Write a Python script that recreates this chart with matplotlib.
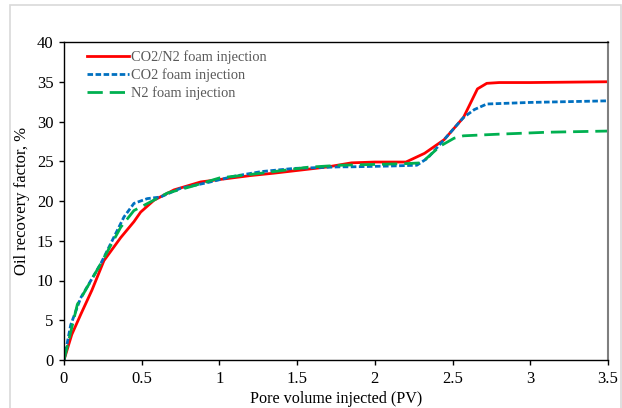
import matplotlib.pyplot as plt
from matplotlib.patches import Rectangle

# CO2/N2 foam injection
pv_mix = [0, 0.05, 0.107, 0.18, 0.257, 0.365, 0.45, 0.493, 0.579, 0.708, 0.88, 1.0, 1.2, 1.35,
          1.57, 1.7, 1.85, 2.0, 2.2, 2.32, 2.445, 2.57, 2.66, 2.72, 2.8, 3.0, 3.5]
rf_mix = [0, 3.2, 5.7, 8.8, 12.5, 15.4, 17.4, 18.6, 20.1, 21.4, 22.4, 22.7, 23.2, 23.5,
          24.0, 24.3, 24.8, 24.9, 24.9, 26.0, 27.7, 30.5, 34.1, 34.8, 34.9, 34.9, 35.0]

# CO2 foam injection
pv_co2 = [0, 0.043, 0.107, 0.236, 0.386, 0.45, 0.536, 0.62, 0.75, 0.92, 1.09, 1.27, 1.48,
          1.78, 1.85, 2.1, 2.27, 2.34, 2.445, 2.57, 2.64, 2.72, 3.0, 3.5]
rf_co2 = [0, 4.4, 7.8, 12.1, 18.0, 19.7, 20.3, 20.5, 21.6, 22.3, 23.1, 23.7, 24.1,
          24.3, 24.3, 24.4, 24.5, 25.4, 27.7, 30.5, 31.5, 32.2, 32.4, 32.6]

# N2 foam injection
pv_n2 = [0, 0.086, 0.236, 0.365, 0.45, 0.558, 0.665, 0.815, 1.0, 1.27, 1.57, 1.78, 2.0,
         2.2, 2.3, 2.42, 2.51, 2.57, 2.79, 3.11, 3.5]
rf_n2 = [0, 7.0, 12.1, 16.7, 18.8, 19.9, 21.0, 21.8, 22.9, 23.5, 24.25, 24.5, 24.6,
         24.7, 24.8, 26.9, 27.9, 28.2, 28.4, 28.65, 28.8]

x_ticks = [0, 0.5, 1, 1.5, 2, 2.5, 3, 3.5]
x_labels = ['0', '0.5', '1', '1.5', '2', '2.5', '3', '3.5']
y_ticks = [0, 5, 10, 15, 20, 25, 30, 35, 40]

plt.rcParams['font.family'] = ['Liberation Serif', 'DejaVu Serif']

fig = plt.figure(figsize=(6.22, 4.08), dpi=100)
ax = fig.add_axes([64 / 622, 1 - 360 / 408, 544 / 622, 318 / 408])

# light frame around the chart area
fig.patches.append(Rectangle((10 / 622, -0.05), 611 / 622, 1 - 5 / 408 + 0.05,
                             transform=fig.transFigure, fill=False,
                             edgecolor='#d9d9d9', lw=1.2))

ax.plot(pv_mix, rf_mix, color='#ff0000', lw=2.0, label='CO2/N2 foam injection')
ax.plot(pv_co2, rf_co2, color='#0070c0', lw=2.0, linestyle=(0, (2.0, 0.9)),
        label='CO2 foam injection')
ax.plot(pv_n2, rf_n2, color='#00b050', lw=2.0, linestyle=(0, (5.5, 2.5)),
        label='N2 foam injection')

ax.set_xlim(0, 3.5)
ax.set_ylim(0, 40)
ax.set_xticks(x_ticks)
ax.set_xticklabels(x_labels)
ax.set_yticks(y_ticks)
ax.tick_params(labelsize=12, length=3.6, width=1, colors='black', pad=4)

for side in ['left', 'bottom', 'top']:
    ax.spines[side].set_color('black')
    ax.spines[side].set_linewidth(1.0)
ax.spines['right'].set_color('#7f7f7f')
ax.spines['right'].set_linewidth(1.5)

ax.set_xlabel('Pore volume injected (PV)', fontsize=11.6, labelpad=3)
ax.set_ylabel('Oil recovery factor, %', fontsize=12, labelpad=5)

leg = ax.legend(loc='upper left', frameon=False, fontsize=10.4, handlelength=2.9,
                handletextpad=0.15, labelspacing=0.3, borderaxespad=0, borderpad=0,
                bbox_to_anchor=(23 / 544, 0.975))
for t in leg.get_texts():
    t.set_color('#595959')

fig.savefig('out.png', dpi=100)
